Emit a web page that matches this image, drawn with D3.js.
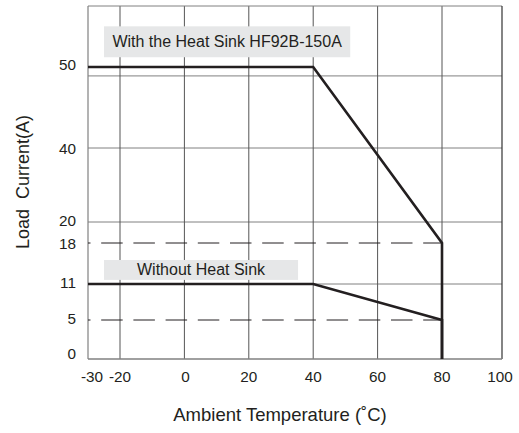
<!DOCTYPE html>
<html>
<head>
<meta charset="utf-8">
<script src="https://cdn.jsdelivr.net/npm/d3@7"></script>
<style>
  html, body { margin: 0; padding: 0; background: #fff; }
  svg { display: block; font-family: "Liberation Sans", Arial, sans-serif; }
</style>
</head>
<body>
<svg id="chart" width="519" height="433"></svg>
<script>
// ---- data ----
const xTicks = [-30, -20, 0, 20, 40, 60, 80, 100];
const xGrid = [-20, 0, 20, 40, 60, 80];
const yTicks = [0, 5, 11, 18, 20, 40, 50];
const yGrid = [11, 20, 40, 48.9];
const withSinkTemp = [-30, 40, 80, 80];
const withSinkCurrent = [50, 50, 18, 0];
const noSinkTemp = [-30, 40, 80, 80];
const noSinkCurrent = [11, 11, 5, 0];
const refLevels = [18, 5];
const refTempRange = [-30, 80];
const labels = ["With the Heat Sink HF92B-150A", "Without Heat Sink"];
const xTitle = "Ambient Temperature (\u02DAC)";
const yTitle = "Load  Current(A)";

// ---- scales (piecewise, as on the original drawing) ----
const x = d3.scaleLinear().domain([-30, -20, 80, 100]).range([88, 120, 442, 502]);
const y = d3.scaleLinear().domain([0, 5, 11, 18, 20, 40, 50, 57.5])
  .range([359, 320, 284, 243, 222, 148, 67, 6]);

const svg = d3.select("#chart");
const ink = "#231f20";

// horizontal grid
svg.append("g").selectAll("line").data(yGrid).join("line")
  .attr("x1", x(-30)).attr("x2", x(100))
  .attr("y1", d => y(d)).attr("y2", d => y(d))
  .attr("stroke", "#808080").attr("stroke-width", 1);
// vertical grid
svg.append("g").selectAll("line").data(xGrid).join("line")
  .attr("x1", d => x(d)).attr("x2", d => x(d))
  .attr("y1", y(0)).attr("y2", y(57.5))
  .attr("stroke", "#555").attr("stroke-width", 1);
// frame
svg.append("line").attr("x1", x(-30)).attr("x2", x(100)).attr("y1", y(57.5)).attr("y2", y(57.5))
  .attr("stroke", "#808080").attr("stroke-width", 1);
svg.append("line").attr("x1", x(-30)).attr("x2", x(-30)).attr("y1", y(0)).attr("y2", y(57.5))
  .attr("stroke", "#808080").attr("stroke-width", 1.2);
svg.append("line").attr("x1", x(100)).attr("x2", x(100)).attr("y1", y(0)).attr("y2", y(57.5))
  .attr("stroke", "#333").attr("stroke-width", 1.2);
svg.append("line").attr("x1", x(-30)).attr("x2", x(100)).attr("y1", y(0)).attr("y2", y(0))
  .attr("stroke", "#808080").attr("stroke-width", 1.5);

// dashed reference levels
svg.append("g").selectAll("line").data(refLevels).join("line")
  .attr("x1", x(refTempRange[0])).attr("x2", x(refTempRange[1]))
  .attr("y1", d => y(d)).attr("y2", d => y(d))
  .attr("stroke", ink).attr("stroke-width", 1)
  .attr("stroke-dasharray", "21.5,10.7").attr("stroke-dashoffset", 19);

// label boxes
const boxes = [
  { text: labels[0], x0: -25, x1: 51.5, yTop: 55, yBot: 51.2 },
  { text: labels[1], x0: -25, x1: 35.3, yTop: 15.1, yBot: 11.7 }
];
boxes.forEach(b => {
  const bx = x(b.x0), bw = x(b.x1) - x(b.x0);
  const by = y(b.yTop), bh = y(b.yBot) - y(b.yTop);
  svg.append("rect").attr("x", bx).attr("y", by).attr("width", bw).attr("height", bh)
    .attr("fill", "#e6e7e8");
  svg.append("text").attr("x", bx + bw / 2).attr("y", by + bh / 2)
    .attr("text-anchor", "middle").attr("dominant-baseline", "central")
    .attr("font-size", 16).attr("fill", ink).text(b.text);
});

// curves
const line = d3.line().x(d => x(d[0])).y(d => y(d[1]));
const withData = withSinkTemp.map((t, i) => [t, withSinkCurrent[i]]);
const noData = noSinkTemp.map((t, i) => [t, noSinkCurrent[i]]);
[withData, noData].forEach(data => {
  svg.append("path").attr("d", line(data)).attr("fill", "none")
    .attr("stroke", ink).attr("stroke-width", 2.6).attr("stroke-linejoin", "miter");
});

// y tick labels
svg.append("g").selectAll("text").data(yTicks).join("text")
  .attr("x", 76).attr("y", d => y(d) - (d === 0 ? 6 : d === 50 ? 3 : d === 20 || d === 5 || d === 11 ? 2 : 0))
  .attr("text-anchor", "end").attr("dominant-baseline", "central")
  .attr("font-size", 15.3).attr("fill", ink).text(d => d);

// x tick labels
svg.append("g").selectAll("text").data(xTicks).join("text")
  .attr("x", d => x(d) + (d === -30 ? 4 : d === 100 ? -2 : d === 0 ? 1 : 0)).attr("y", 382)
  .attr("text-anchor", "middle")
  .attr("font-size", 15.3).attr("fill", ink).text(d => d);

// axis titles
svg.append("text").attr("x", 280).attr("y", 421).attr("text-anchor", "middle")
  .attr("font-size", 18.5).attr("fill", ink).text(xTitle);
svg.append("text").attr("transform", "translate(29,182) rotate(-90)")
  .attr("text-anchor", "middle").style("white-space", "pre")
  .attr("font-size", 18).attr("fill", ink).text(yTitle);
</script>
</body>
</html>
